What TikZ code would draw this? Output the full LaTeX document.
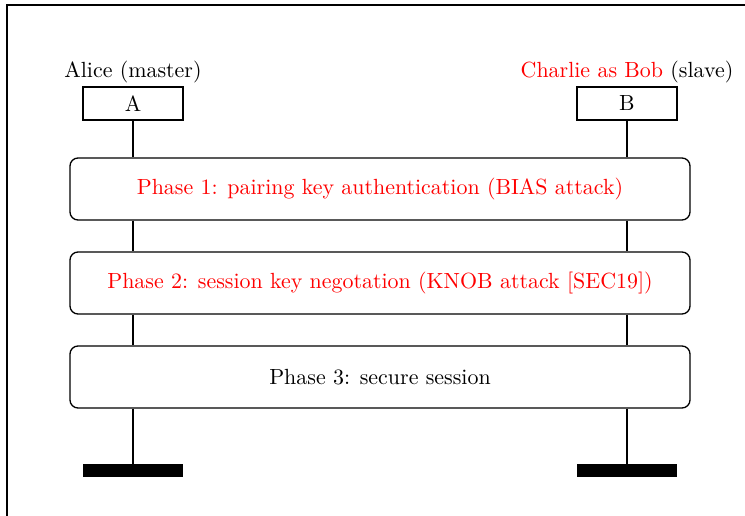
\documentclass[tikz,border=0pt]{standalone}
\usetikzlibrary{positioning}
\begin{document}
\begin{tikzpicture}[x=0.456pt,y=-0.456pt,
  actor/.style={draw,line width=0.6pt,minimum width=100*0.456pt,minimum height=33*0.456pt,inner sep=0pt},
  phase/.style={draw,line width=0.6pt,rounded corners=8*0.456pt,minimum width=620*0.456pt,minimum height=62*0.456pt,inner sep=0pt},
  endbar/.style={fill=black,minimum width=100*0.456pt,minimum height=13*0.456pt,inner sep=0pt},
  life/.style={line width=0.6pt},
  frameline/.style={line width=1pt}]
\useasboundingbox (0,0) rectangle (745,516);
% outer frame (top and left edges)
\draw[frameline] (745,5) -- (7,5) -- (7,516);
% participants
\node[actor] (A) at (133,103.5) {A};
\node[actor] (B) at (627,103.5) {B};
\node[above=0pt of A,inner sep=1.5pt] (la) {Alice (master)};
\node[above=0pt of B,inner sep=1.5pt] (lb) {\textcolor{red}{Charlie as Bob} (slave)};
% phases
\node[phase] (p1) at (380,189) {\textcolor{red}{Phase 1: pairing key authentication (BIAS attack)}};
\node[phase] (p2) at (380,283) {\textcolor{red}{Phase 2: session key negotation (KNOB attack [SEC19])}};
\node[phase] (p3) at (380,377) {Phase 3: secure session};
% lifeline ends
\node[endbar] (ea) at (133,470.5) {};
\node[endbar] (eb) at (627,470.5) {};
% lifelines
\draw[life] (A.south) -- (A.south |- p1.north);
\draw[life] (A.south |- p1.south) -- (A.south |- p2.north);
\draw[life] (A.south |- p2.south) -- (A.south |- p3.north);
\draw[life] (A.south |- p3.south) -- (ea.north);
\draw[life] (B.south) -- (B.south |- p1.north);
\draw[life] (B.south |- p1.south) -- (B.south |- p2.north);
\draw[life] (B.south |- p2.south) -- (B.south |- p3.north);
\draw[life] (B.south |- p3.south) -- (eb.north);
\end{tikzpicture}
\end{document}
